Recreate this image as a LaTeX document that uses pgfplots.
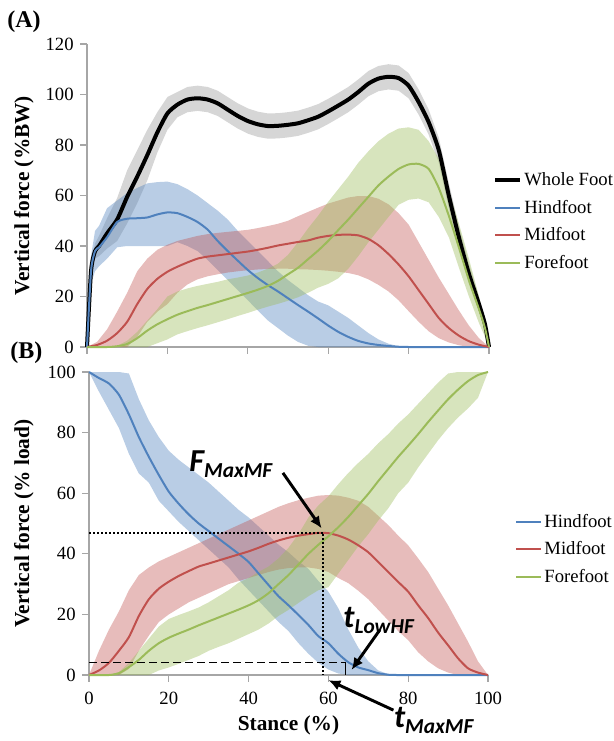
\documentclass[border=0pt]{standalone}
\usepackage{fontspec}
\setmainfont{Liberation Serif}
\newfontfamily\calfont{Carlito}
\usepackage{pgfplots}
\pgfplotsset{compat=1.18}
\usepgfplotslibrary{fillbetween}
\usepackage{pgfplotstable}
\usetikzlibrary{arrows.meta}

\definecolor{hf}{HTML}{4F81BD}
\definecolor{mf}{HTML}{C0504D}
\definecolor{ff}{HTML}{9BBB59}
\definecolor{axgray}{HTML}{A6A6A6}
\definecolor{bandgray}{HTML}{D6D6D6}

% ---------- Panel A: % body weight ----------
\pgfplotstableread{
x y lo hi
0 0 0 0
1 30 27 33
2 38 35 41
3 40 36 44
5 45 39 51
7.5 50.5 42 59
10 59.5 49 70
12.5 67.5 57 78
15 76 66 86
17.5 85 77 93
20 92.5 86 99
22.5 96 91 101
25 98 93 103
27.5 98.5 93.5 103.5
30 98 93 103
32.5 96.5 91.5 101.5
35 94 89 99
37.5 91.5 86.5 96.5
40 89.5 84.5 94.5
42.5 88.2 83.2 93.2
45 87.5 82.5 92.5
47.5 87.6 82.6 92.6
50 88 83 93
52.5 88.6 83.6 93.6
55 89.8 84.8 94.8
57.5 91.2 86.2 96.2
60 93.3 88.3 98.3
62.5 95.6 90.6 100.6
65 98 93 103
67.5 101 96 106
70 104.3 99.3 109.3
72.5 106.3 101.3 111.3
75 107 102 112
77.5 106.5 101.5 111.5
80 103.5 98.5 108.5
82.5 97 92 102
85 89 84 94
87.5 78 73 83
90 60 55 65
92.5 43.5 39 48
95 29 25 33
97.5 17 14 20
99 9 7 11
100 0 0 0
}\wfA

\pgfplotstableread{
x y lo hi
0 0 0 0
1 30 25 36
2 38 30 46
3 39.5 32 48
5 43.5 35 55
7.5 49.5 39.5 58
10 50.8 40 61
12.5 51 40 63
15 51.3 40 64.8
17.5 52.5 40 65.3
20 53.3 40 65.5
22.5 53 41.5 64.5
25 51.5 40 62.5
27.5 49.5 38 60
30 46.5 34.5 57
32.5 42 30.5 54
35 38 26.5 50.5
37.5 34.2 22.5 46
40 30.5 18.5 42
42.5 27.3 14.5 38
45 24.5 10.5 34
47.5 22 7.5 30
50 19.3 4.5 26.5
52.5 16.6 2 23.5
55 14 0.5 20.5
57.5 11.3 0 18
60 8.5 0 16.5
62.5 6 0 14
65 4 0 11.5
67.5 2.4 0 8.5
70 1.4 0 5.5
72.5 0.8 0 3
75 0.4 0 1.3
77.5 0.1 0 0.3
80 0 0 0
100 0 0 0
}\hfA

\pgfplotstableread{
x y lo hi
0 0 0 0
2.5 0.8 0 2
5 2.5 0 7
7.5 5.5 0 14
10 10 0 21.5
12.5 17 4 30
15 23 10 35
17.5 27 14 38.5
20 29.8 17 40.5
22.5 31.8 21.5 42
25 33.5 24.8 43
27.5 35 26.8 44
30 35.8 28 44.7
32.5 36.3 28.8 45.2
35 36.8 29.5 45.6
37.5 37.3 30 46
40 37.8 30.4 46.4
42.5 38.5 30.7 47.1
45 39.3 30.9 47.9
47.5 40.2 31 48.8
50 40.9 31 50
52.5 41.6 30.8 51.8
55 42.2 30.7 53.5
57.5 43.3 30.5 55.2
60 44 30.2 56.8
62.5 44.4 29.8 58
65 44.5 29.3 59.2
67.5 44.2 28.4 59.8
70 42.8 26.8 59.8
72.5 40.3 24.6 58.7
75 36.8 22 56.5
77.5 32.7 18.5 53
80 28 14.2 48.5
82.5 22.5 10 41.5
85 17 6.2 34.5
87.5 11.5 3.5 27.5
90 7.5 1.8 21
92.5 4.5 0.7 14.5
95 2.3 0 8.5
97.5 0.9 0 3.5
100 0 0 0
}\mfA

\pgfplotstableread{
x y lo hi
0 0 0 0
5 0 0 0
7.5 0.3 0 0.5
10 1.2 0 2.5
12.5 3.5 0 6
15 6.5 0 10.5
17.5 9 1.5 15
20 11 3 20
22.5 12.8 5 22
25 14.2 6.3 23.2
27.5 15.5 7.5 24.2
30 16.6 8.6 25
32.5 17.8 9.8 25.8
35 19 11 26.8
37.5 20.2 12.3 27.5
40 21.4 13.5 28.3
42.5 22.7 14.8 29.5
45 24.2 16 31
47.5 26.2 17.1 33
50 28.8 18.3 36.5
52.5 31.4 19.7 41.5
55 34.8 21.5 47
57.5 38.2 23.5 52
60 42 25 57.5
62.5 46.3 27.2 62.5
65 50.5 31 67.5
67.5 55 36 73
70 59.5 41.5 77.5
72.5 64 46.5 81.5
75 67.5 51.5 84.5
77.5 70.5 56.3 86.5
80 72.3 58.3 87
82.5 72.5 58.8 86
85 70.5 57.3 81.5
87.5 63 51.5 74.5
90 52 43.5 62
92.5 39.5 31.5 49
95 26.5 20 35
97.5 15 9.5 20
99 7.5 4 10
100 0 0 0
}\ffA

% ---------- Panel B: % load ----------
\pgfplotstableread{
x y lo hi
0 100 100 100
2.5 98 93.5 100
5 96.2 87.5 100
7.5 92.5 81.5 100
10 86 73 99.5
12.5 78.5 66.5 91
15 72 63.5 84
17.5 66 57.5 78.5
20 60.5 54 74
22.5 56.5 50.5 71
25 53 47.5 68.5
27.5 50 44.5 66
30 47.5 41.5 63.5
32.5 45 38.5 60.5
35 42.5 35.5 57.5
37.5 40 31.5 54.5
40 37.3 28 52
42.5 33.5 24.5 49
45 29.7 21 46
47.5 26 17.5 43
50 23 14.5 40.5
52.5 19.8 10.5 37.5
55 16.5 7 35
57.5 12.8 4 31
60 10.5 1.8 27.5
62.5 7 0.5 22
65 4.2 0 15
67.5 2.5 0 9
70 1.6 0 4.5
72.5 0.6 0 1.5
75 0.1 0 0.3
77.5 0 0 0
100 0 0 0
}\hfB

\pgfplotstableread{
x y lo hi
0 0 0 0
2.5 1.5 0 8
5 4 0 15
7.5 8 0 21
10 12.5 2 28
12.5 19.5 8 33
15 25 13 35.5
17.5 28.5 17.5 37.5
20 30.8 20 39
22.5 32.7 22 40.5
25 34.3 24 42
27.5 35.8 25.5 43.5
30 36.8 27 45
32.5 37.8 28.5 46.5
35 38.8 30 48
37.5 39.8 31 49.5
40 40.8 32 51
42.5 42 33 52.5
45 43.3 34 54
47.5 44.4 34.8 55.5
50 45.3 35.3 56.7
52.5 46 35.5 57.7
55 46.5 35.5 58.5
57.5 46.9 35 59.2
60 46.8 34 59.4
62.5 46 32 59.2
65 44.7 30.3 58.5
67.5 42.8 27.8 57.5
70 40.5 25 55.5
72.5 37.3 21.5 52.5
75 34 18 49.5
77.5 30.7 14.5 46
80 27.5 11.5 42.8
82.5 23 7.5 38.5
85 18.8 4.5 34
87.5 14 2.2 28.5
90 9.8 0.8 23
92.5 5.5 0 17
95 2.2 0 11
97.5 0.8 0 4.5
100 0 0 0
}\mfB

\pgfplotstableread{
x y lo hi
0 0 0 0
5 0 0 0
7.5 0.6 0 1
10 2.6 0 4
12.5 5 0 8
15 8 0 12
17.5 10.5 1.5 16
20 12.3 2.5 18.5
22.5 13.7 3.7 19.8
25 15 5 21
27.5 16.4 6.3 22.3
30 17.7 8 24
32.5 19 9.3 26
35 20.3 10.5 28
37.5 21.6 12 30.5
40 23 13.5 32
42.5 24.7 15 34
45 27 17 35.8
47.5 30 19.5 38.5
50 33 21.5 42
52.5 36.5 23.8 46.5
55 40 26 52
57.5 43 28 56
60 45.8 29 59
62.5 48.8 33.5 63
65 52.2 38 66.7
67.5 56 42.5 70
70 59.8 46.5 73
72.5 64 51 76.5
75 68 55 79.5
77.5 72 60 83
80 75.7 63.5 86
82.5 79.5 68.5 89.5
85 83.5 73 93
87.5 87.3 77.5 96.5
90 91 81.5 99.5
92.5 94.2 85 100
95 97 88 100
97.5 99 91.5 100
100 100 100 100
}\ffB

\pgfplotsset{
  panel/.style={
    scale only axis,
    axis x line=bottom, axis y line=left,
    axis line style={axgray, line width=0.8pt, -},
    xmin=0, xmax=100, ymin=0,
    xtick={0,20,...,100},
    tick style={axgray, line width=0.8pt},
    tick align=outside, major tick length=5pt,
    ticklabel style={font=\fontsize{14}{16}\selectfont},
    /pgf/number format/assume math mode=true,
    yticklabel style={xshift=-1.5pt},
    xticklabel style={yshift=-4pt},
    clip=false,
    legend style={draw=none, fill=none, anchor=west,
      font=\fontsize{14}{16}\selectfont, row sep=6.3pt,
      nodes={inner sep=1.5pt}},
    legend cell align=left,
    legend image code/.code={\draw[##1, line cap=butt] (0cm,0cm) -- (0.66cm,0cm);},
    ylabel style={font=\bfseries\fontsize{16}{18}\selectfont},
    xlabel style={font=\bfseries\fontsize{16}{18}\selectfont},
  },
  mean/.style={smooth, tension=0.4, line width=1.5pt, no markers},
  bnd/.style={draw=none, no markers, forget plot},
}

\newcommand{\annot}[2]{{\calfont\bfseries\itshape\fontsize{24}{26}\selectfont #1}{\calfont\bfseries\itshape\fontsize{16}{18}\selectfont\raisebox{-4.5pt}{#2}}}

\begin{document}
\begin{tikzpicture}

\node[anchor=base west, font=\bfseries\fontsize{18}{20}\selectfont, inner sep=0pt] at (5.25pt,-21pt) {(A)};
\node[anchor=base west, font=\bfseries\fontsize{18}{20}\selectfont, inner sep=0pt] at (7.5pt,-268.5pt) {(B)};

% ================= Panel A =================
\begin{axis}[panel,
  at={(65.25pt,-260.25pt)}, anchor=south west,
  width=301.5pt, height=227.25pt,
  ymax=120, ytick={0,20,...,120},
  xticklabels={},
  ylabel={Vertical force (\%BW)},
  ylabel style={at={(axis description cs:-0.157,0.5)}, anchor=center},
  legend style={at={(axis description cs:1.0,0.414)}},
]
\addplot[bnd, name path=wU] table[x=x,y=hi]{\wfA};
\addplot[bnd, name path=wL] table[x=x,y=lo]{\wfA};
\addplot[fill=bandgray, draw=none, forget plot] fill between[of=wU and wL];
\addplot[bnd, name path=hU] table[x=x,y=hi]{\hfA};
\addplot[bnd, name path=hL] table[x=x,y=lo]{\hfA};
\addplot[fill=hf, fill opacity=0.4, draw=none, forget plot] fill between[of=hU and hL];
\addplot[bnd, name path=mU] table[x=x,y=hi]{\mfA};
\addplot[bnd, name path=mL] table[x=x,y=lo]{\mfA};
\addplot[fill=mf, fill opacity=0.38, draw=none, forget plot] fill between[of=mU and mL];
\addplot[bnd, name path=fU] table[x=x,y=hi]{\ffA};
\addplot[bnd, name path=fL] table[x=x,y=lo]{\ffA};
\addplot[fill=ff, fill opacity=0.4, draw=none, forget plot] fill between[of=fU and fL];

\addplot[mean, black, line width=3pt] table[x=x,y=y]{\wfA};
\addlegendentry{Whole Foot}
\addplot[mean, hf] table[x=x,y=y]{\hfA};
\addlegendentry{Hindfoot}
\addplot[mean, mf] table[x=x,y=y]{\mfA};
\addlegendentry{Midfoot}
\addplot[mean, ff] table[x=x,y=y]{\ffA};
\addlegendentry{Forefoot}
\end{axis}

% ================= Panel B =================
\begin{axis}[panel,
  at={(66.75pt,-506.25pt)}, anchor=south west,
  width=299.25pt, height=227.25pt,
  ymax=100, ytick={0,20,...,100},
  xlabel={Stance (\%)},
  xlabel style={at={(axis description cs:0.5,-0.165)}, anchor=center},
  ylabel={Vertical force (\% load)},
  ylabel style={at={(axis description cs:-0.163,0.5)}, anchor=center},
  legend style={at={(axis description cs:1.058,0.415)}},
]
\addplot[bnd, name path=hU2] table[x=x,y=hi]{\hfB};
\addplot[bnd, name path=hL2] table[x=x,y=lo]{\hfB};
\addplot[fill=hf, fill opacity=0.4, draw=none, forget plot] fill between[of=hU2 and hL2];
\addplot[bnd, name path=mU2] table[x=x,y=hi]{\mfB};
\addplot[bnd, name path=mL2] table[x=x,y=lo]{\mfB};
\addplot[fill=mf, fill opacity=0.38, draw=none, forget plot] fill between[of=mU2 and mL2];
\addplot[bnd, name path=fU2] table[x=x,y=hi]{\ffB};
\addplot[bnd, name path=fL2] table[x=x,y=lo]{\ffB};
\addplot[fill=ff, fill opacity=0.4, draw=none, forget plot] fill between[of=fU2 and fL2];

\addplot[mean, hf] table[x=x,y=y]{\hfB};
\addlegendentry{Hindfoot}
\addplot[mean, mf] table[x=x,y=y]{\mfB};
\addlegendentry{Midfoot}
\addplot[mean, ff] table[x=x,y=y]{\ffB};
\addlegendentry{Forefoot}

% reference lines
\draw[black, line width=1.4pt, dash pattern=on 1.4pt off 1.6pt] (axis cs:0,47) -- (axis cs:58.7,47) -- (axis cs:58.7,0);
\draw[black, line width=0.8pt, dash pattern=on 6pt off 3pt] (axis cs:0,4) -- (axis cs:64.4,4);
\draw[black, line width=0.8pt] (axis cs:64.4,4) -- (axis cs:64.4,0);

% annotations
\draw[line width=2.2pt, -{Latex[length=9pt,width=8pt]}] (axis cs:48.6,66.7) -- (axis cs:58.3,48.4);
\draw[line width=2.2pt, -{Latex[length=9pt,width=8pt]}] (axis cs:72.9,14.9) -- (axis cs:65.8,1.7);
\draw[line width=2.2pt, -{Latex[length=9pt,width=8pt]}] (axis cs:76.3,-11.6) -- (axis cs:60,-1.7);
\node[anchor=base west, inner sep=0pt] at (axis cs:25.1,67) {\annot{F}{MaxMF}};
\node[anchor=base west, inner sep=0pt] at (axis cs:63.7,15.8) {\annot{t}{LowHF}};
\node[anchor=base west, inner sep=0pt] at (axis cs:76.4,-17.3) {\annot{t}{MaxMF}};
\end{axis}

\pgfresetboundingbox
\path[use as bounding box] (0,0) rectangle (459.75pt,-555.75pt);
\end{tikzpicture}
\end{document}
